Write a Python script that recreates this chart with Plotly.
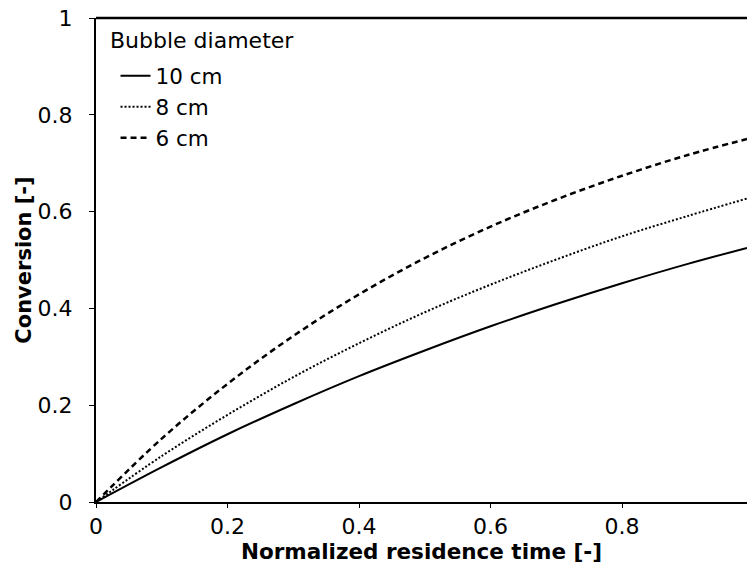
import plotly.graph_objects as go

# Normalized residence time [-]
t = [0.0, 0.1, 0.2, 0.3, 0.4, 0.5, 0.6, 0.7, 0.8, 0.9, 0.99]

# Conversion [-]
conv_10cm = [0.0, 0.072, 0.140, 0.202, 0.260, 0.313, 0.363, 0.409, 0.452, 0.492, 0.525]
conv_8cm = [0.0, 0.095, 0.180, 0.258, 0.328, 0.392, 0.449, 0.501, 0.549, 0.591, 0.627]
conv_6cm = [0.0, 0.131, 0.244, 0.343, 0.429, 0.504, 0.569, 0.625, 0.674, 0.717, 0.750]

names = ["10 cm", "8 cm", "6 cm"]
series = [conv_10cm, conv_8cm, conv_6cm]
dashes = ["solid", "2px,2px", "6px,4px"]
widths = [2, 2, 2.5]

x_ticks = [0, 0.2, 0.4, 0.6, 0.8]
y_ticks = [0, 0.2, 0.4, 0.6, 0.8, 1]

legend_title = "Bubble diameter"

FONT = "DejaVu Sans"

fig = go.Figure()
for name, ys, d, w in zip(names, series, dashes, widths):
    fig.add_trace(go.Scatter(
        x=t, y=ys, mode="lines", name=name,
        line=dict(color="black", width=w, dash=d, shape="spline"),
    ))

fig.update_layout(
    width=748, height=571,
    margin=dict(l=96, r=1, t=18, b=69),
    paper_bgcolor="white", plot_bgcolor="white",
    font=dict(family=FONT, size=22, color="black"),
    showlegend=True,
    legend=dict(
        x=0.03, y=0.923, xanchor="left", yanchor="top",
        bgcolor="rgba(0,0,0,0)", borderwidth=0,
        font=dict(family=FONT, size=21.5),
        tracegroupgap=0,
    ),
    xaxis=dict(
        range=[0, 0.99], tickvals=x_ticks,
        showline=True, linecolor="black", linewidth=2,
        ticks="outside", ticklen=4, tickcolor="black", tickwidth=1,
        showgrid=False, zeroline=False,
        tickfont=dict(family=FONT, size=22),
        title=dict(text="Normalized residence time [-]",
                   font=dict(family=FONT, size=21.5, weight="bold"), standoff=6),
    ),
    yaxis=dict(
        range=[0, 1], tickvals=y_ticks,
        showline=True, linecolor="black", linewidth=2,
        ticks="outside", ticklen=5, tickcolor="black", tickwidth=1,
        showgrid=False, zeroline=False,
        tickfont=dict(family=FONT, size=22),
        ticklabelstandoff=12,
        title=dict(text="Conversion [-]",
                   font=dict(family=FONT, size=21, weight="bold"), standoff=0),
    ),
)

fig.add_annotation(text=legend_title, xref="paper", yref="paper",
                   x=0.018, y=0.9545, xanchor="left", yanchor="middle",
                   showarrow=False, font=dict(family=FONT, size=22))

# top frame line
fig.add_shape(type="line", xref="paper", yref="paper", x0=0, x1=1, y0=1, y1=1,
              line=dict(color="black", width=2.5))

fig.write_html("out.html")
